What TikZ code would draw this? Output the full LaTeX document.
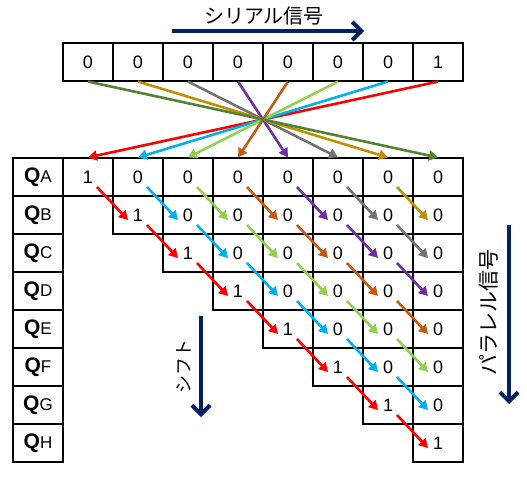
\documentclass[tikz,border=0pt]{standalone}
\usepackage{fontspec}
\setmainfont{Liberation Sans}
\newfontfamily\jp{Noto Sans CJK JP}
\usetikzlibrary{arrows.meta,calc}
\definecolor{col0}{HTML}{FF0000}
\definecolor{col1}{HTML}{00B0F0}
\definecolor{col2}{HTML}{92D050}
\definecolor{col3}{HTML}{C55A11}
\definecolor{col4}{HTML}{7030A0}
\definecolor{col5}{HTML}{767171}
\definecolor{col6}{HTML}{BF9000}
\definecolor{col7}{HTML}{548235}
\definecolor{navy}{HTML}{002060}
\tikzset{
  cellbox/.style={draw=black, line width=1.1pt, minimum width=50pt, minimum height=38pt,
    inner sep=0pt, font=\fontsize{18}{20}\selectfont},
  labelbox/.style={cellbox},
  toparrow/.style={line width=2.6pt, -{Triangle[length=9pt,width=10pt]}},
  gridarrow/.style={line width=2.6pt, -{Triangle[length=9pt,width=10pt]}},
  navyarrow/.style={draw=navy, line width=4pt, -{Straight Barb[length=9pt,width=18pt]}},
  jptext/.style={text=black, inner sep=0pt}
}
\begin{document}
\begin{tikzpicture}[x=1pt,y=-1pt]
\useasboundingbox (0,0) rectangle (527,479);
% title and serial arrow
\node[jptext, font=\jp\fontsize{20}{22}\selectfont] (title) at (264,16) {シリアル信号};
\coordinate (sa) at (172,31);
\coordinate (sb) at (364,31);
\draw[navyarrow] (sa) -- (sb);
% top register
\foreach \j in {0,...,7} {
  \node[cellbox] (t\j) at (88+50*\j,62) {\ifnum\j=7\relax 1\else 0\fi};
}
% grid
\foreach \r in {0,...,7} {
  \node[labelbox] (q\r) at (38,177+38*\r) {};
  \foreach \c in {\r,...,7} {
    \node[cellbox] (g\r\c) at (88+50*\c,177+38*\r) {\ifnum\r=\c\relax 1\else 0\fi};
  }
}
\foreach \r/\L in {0/A,1/B,2/C,3/D,4/E,5/F,6/G,7/H} {
  \node[inner sep=0pt] at (q\r.center) {{\fontsize{21}{22}\selectfont\bfseries Q}{\fontsize{17}{19}\selectfont\L}};
}
% crossing arrows
\foreach \j in {7,6,...,0} {
  \pgfmathtruncatemacro\m{7-\j}
  \draw[toparrow, color=col\m] (t\j.south) -- (g0\m.north);
}
% grid shift arrows
\foreach \r in {0,...,6} {
  \foreach \c in {\r,...,6} {
    \pgfmathtruncatemacro\rr{\r+1}
    \pgfmathtruncatemacro\cc{\c+1}
    \pgfmathtruncatemacro\k{\c-\r}
    \draw[gridarrow, color=col\k] ($(g\r\c.center)+(9,10)$) -- ($(g\rr\cc.center)+(-10,5)$);
  }
}
% shift label and arrow
\node[jptext, rotate=90, font=\jp\fontsize{18}{20}\selectfont] (shift) at (184,366) {シフト};
\coordinate (ha) at (201,316);
\coordinate (hb) at (201,417);
\draw[navyarrow] (ha) -- (hb);
% parallel label and arrow
\node[jptext, rotate=90, font=\jp\fontsize{21}{23}\selectfont] (par) at (489,312) {パラレル信号};
\coordinate (pa) at (509,225);
\coordinate (pb) at (509,404);
\draw[navyarrow] (pa) -- (pb);
\end{tikzpicture}
\end{document}
